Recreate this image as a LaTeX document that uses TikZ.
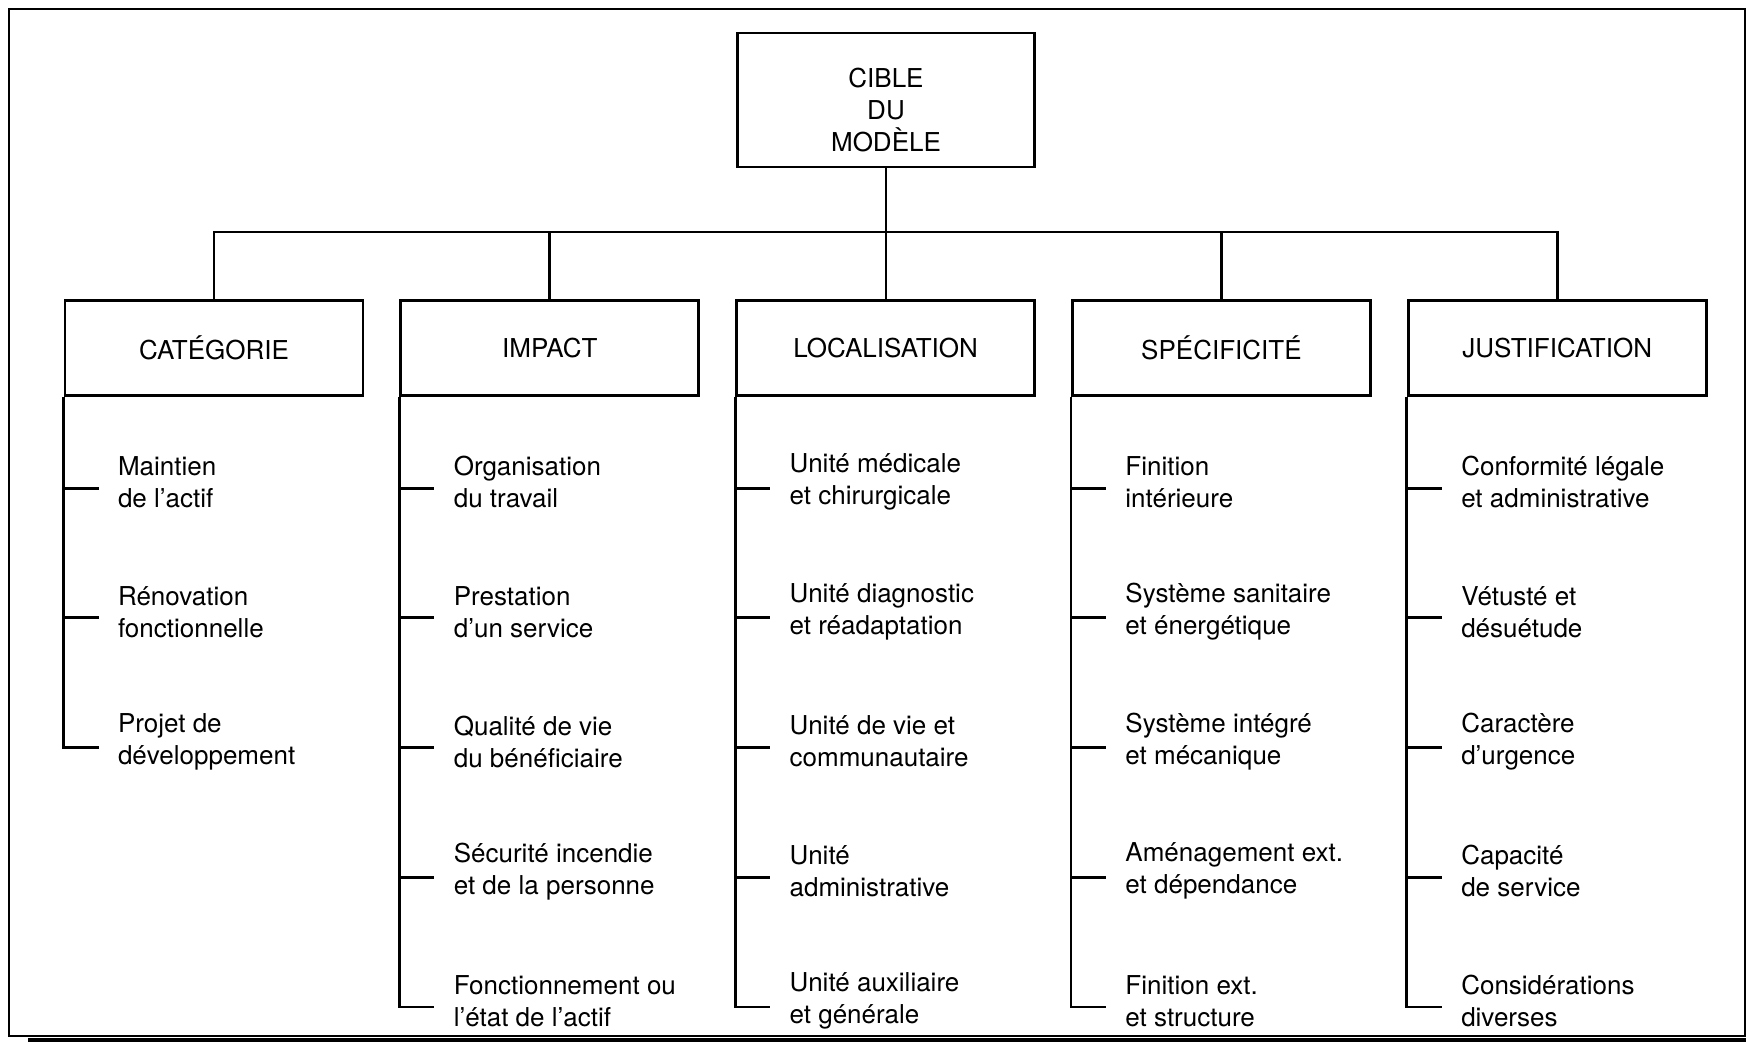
\documentclass[tikz,border=0pt]{standalone}
\usepackage{fontspec}
\setmainfont{TeX Gyre Heros}
\usetikzlibrary{positioning}

\begin{document}
\begin{tikzpicture}[line width=0.8pt, font=\fontsize{7.4pt}{9.1pt}\selectfont,
    headbox/.style={draw, minimum width=2.98cm, minimum height=0.95cm},
    item/.style={align=left, inner sep=0pt}]
    \useasboundingbox (0,0) rectangle (17.46,-10.43);

    % cadre
    \draw (0.09,-0.09) rectangle (17.45,-10.36);
    \draw[line width=1.3pt] (0.28,-10.40) -- (17.46,-10.40);

    % sommet
    \node[draw, minimum width=2.97cm, minimum height=1.34cm,
      label={[align=center, yshift=-0.1cm]center:{CIBLE\\DU\\MODÈLE}}] (cible) at (8.86,-1.00) {};

    % criteres
    \node[headbox] (cat) at (2.14,-3.48) {CATÉGORIE};
    \node[headbox, right=0.35cm of cat] (imp) {IMPACT};
    \node[headbox, right=0.35cm of imp] (loc) {LOCALISATION};
    \node[headbox, right=0.35cm of loc] (spe) {SPÉCIFICITÉ};
    \node[headbox, right=0.35cm of spe] (jus) {JUSTIFICATION};

    \coordinate (bus) at (8.86,-2.32);
    \draw (cible.south) -- (cible.south |- loc.north);
    \draw (cat.north) |- (bus) -| (jus.north);
    \draw (imp.north) -- (imp.north |- bus);
    \draw (spe.north) -- (spe.north |- bus);

    % sous-criteres
    \foreach \b/\lst in {
        cat/{{Maintien\\de l’actif},{Rénovation\\fonctionnelle},{Projet de\\développement}},
        imp/{{Organisation\\du travail},{Prestation\\d’un service},{Qualité de vie\\du bénéficiaire},{Sécurité incendie\\et de la personne},{Fonctionnement ou\\l’état de l’actif}},
        loc/{{Unité médicale\\et chirurgicale},{Unité diagnostic\\et réadaptation},{Unité de vie et\\communautaire},{Unité\\administrative},{Unité auxiliaire\\et générale}},
        spe/{{Finition\\intérieure},{Système sanitaire\\et énergétique},{Système intégré\\et mécanique},{Aménagement ext.\\et dépendance},{Finition ext.\\et structure}},
        jus/{{Conformité légale\\et administrative},{Vétusté et\\désuétude},{Caractère\\d’urgence},{Capacité\\de service},{Considérations\\diverses}}}{
      \coordinate (\b-t0) at (\b.south west);
      \foreach \t [count=\j, remember=\j as \pj (initially 0)] in \lst {
        \coordinate (\b-t\j) at ([yshift={-(0.913+(\j-1)*1.297)*1cm}]\b.south west);
        \node[item, anchor=west, yshift=0.06cm] (\b-i\j) at ([xshift=0.53cm]\b-t\j) {\t};
        \draw (\b-t\pj) -- (\b-t\j) -- ([xshift=-0.18cm]\b-i\j.west |- \b-t\j);
      }
    }
  \end{tikzpicture}
\end{document}
